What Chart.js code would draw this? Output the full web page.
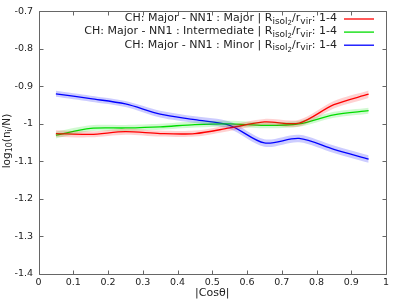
<!DOCTYPE html>
<html>
<head>
<meta charset="utf-8">
<script src="https://cdn.jsdelivr.net/npm/chart.js@4"></script>
<style>
  html, body { margin: 0; padding: 0; background: #fff; }
</style>
</head>
<body>
<canvas id="c" width="399" height="299"></canvas>
<script>
// ------------------------
// Data
// ------------------------
const cosBins = [0.05, 0.15, 0.25, 0.35, 0.45, 0.55, 0.65, 0.75, 0.85, 0.95];

const majorVals = [-1.026, -1.028, -1.021, -1.026, -1.026, -1.011, -0.995, -0.998, -0.949, -0.921];
const interVals = [-1.030, -1.012, -1.011, -1.008, -1.002, -1.000, -1.004, -1.000, -0.976, -0.965];
const minorVals = [-0.920, -0.933, -0.947, -0.974, -0.989, -1.004, -1.051, -1.039, -1.068, -1.094];

const majorErr = [0.009, 0.008, 0.008, 0.008, 0.008, 0.008, 0.008, 0.009, 0.010, 0.010];
const interErr = [0.009, 0.008, 0.008, 0.008, 0.008, 0.008, 0.008, 0.008, 0.008, 0.008];
const minorErr = [0.008, 0.008, 0.008, 0.009, 0.009, 0.010, 0.010, 0.010, 0.010, 0.010];

const xTicks = [0, 0.1, 0.2, 0.3, 0.4, 0.5, 0.6, 0.7, 0.8, 0.9, 1];
const yTicks = [-1.4, -1.3, -1.2, -1.1, -1, -0.9, -0.8, -0.7];

const seriesNames = ['Major', 'Intermediate', 'Minor'];
const seriesColors = ['#ff0000', '#00dd00', '#0000ff'];
const bandColors = ['rgba(255,0,0,0.18)', 'rgba(0,220,0,0.18)', 'rgba(0,0,255,0.2)'];

const FONT = '"DejaVu Sans", sans-serif';

// ------------------------
// Build datasets
// ------------------------
function pts(vals, errs, sign) {
  return cosBins.map((x, i) => ({ x: x, y: vals[i] + sign * (errs ? errs[i] : 0) }));
}

const allVals = [majorVals, interVals, minorVals];
const allErrs = [majorErr, interErr, minorErr];
const datasets = [];

allVals.forEach((vals, k) => {
  // band: lower edge, then upper edge filled down to it
  datasets.push({
    data: pts(vals, allErrs[k], -1),
    borderWidth: 0, pointRadius: 0, fill: false, tension: 0.3
  });
  datasets.push({
    data: pts(vals, allErrs[k], 1),
    borderWidth: 0, pointRadius: 0, fill: '-1',
    backgroundColor: bandColors[k], tension: 0.3
  });
});
allVals.forEach((vals, k) => {
  datasets.push({
    data: pts(vals, null, 0),
    borderColor: seriesColors[k], borderWidth: 1.3,
    pointRadius: 0, fill: false, tension: 0.3
  });
});

// ------------------------
// Frame, inward ticks, legend, y title
// ------------------------
function textWidth(ctx, parts) {
  let w = 0;
  parts.forEach(p => { ctx.font = p.size + 'px ' + FONT; w += ctx.measureText(p.t).width; });
  return w;
}

function drawRich(ctx, parts, xLeft, y) {
  let x = xLeft;
  ctx.textAlign = 'left';
  ctx.textBaseline = 'middle';
  parts.forEach(p => {
    ctx.font = p.size + 'px ' + FONT;
    ctx.fillText(p.t, x, y + p.dy);
    x += ctx.measureText(p.t).width;
  });
}

const framePlugin = {
  id: 'frame',
  afterDraw(chart) {
    const ctx = chart.ctx;
    const a = chart.chartArea;
    const xs = chart.scales.x, ys = chart.scales.y;
    const L = Math.round(a.left) + 0.5, R = Math.round(a.right) + 0.5;
    const T = Math.round(a.top) + 0.5, B = Math.round(a.bottom) + 0.5;

    ctx.save();
    ctx.strokeStyle = '#666';
    ctx.lineWidth = 1;
    ctx.beginPath();
    ctx.rect(L, T, R - L, B - T);
    xTicks.forEach(v => {
      const px = Math.round(xs.getPixelForValue(v)) + 0.5;
      ctx.moveTo(px, B); ctx.lineTo(px, B - 4);
      ctx.moveTo(px, T); ctx.lineTo(px, T + 4);
    });
    yTicks.forEach(v => {
      const py = Math.round(ys.getPixelForValue(v)) + 0.5;
      ctx.moveTo(L, py); ctx.lineTo(L + 4, py);
      ctx.moveTo(R, py); ctx.lineTo(R - 4, py);
    });
    ctx.stroke();

    // legend, right aligned text with sample line
    seriesNames.forEach((name, k) => {
      const y = 18.5 + k * 13.1;
      const parts = [
        { t: 'CH: Major - NN1 : ' + name + ' | R', size: 11, dy: 0 },
        { t: 'isol', size: 9, dy: 3 },
        { t: '2', size: 7, dy: 5 },
        { t: '/r', size: 11, dy: 0 },
        { t: 'vir', size: 9, dy: 3 },
        { t: ': 1-4', size: 11, dy: 0 }
      ];
      ctx.fillStyle = '#222';
      drawRich(ctx, parts, 337 - textWidth(ctx, parts), y);
      ctx.strokeStyle = seriesColors[k];
      ctx.lineWidth = 1.3;
      ctx.beginPath();
      ctx.moveTo(344, y + 0.5); ctx.lineTo(374, y + 0.5);
      ctx.stroke();
    });
    ctx.restore();

    // y axis title, rotated
    const yParts = [
      { t: 'log', size: 10.5, dy: 0 },
      { t: '10', size: 8, dy: 3 },
      { t: '(n', size: 10.5, dy: 0 },
      { t: 'i', size: 8, dy: 3 },
      { t: '/N)', size: 10.5, dy: 0 }
    ];
    ctx.save();
    ctx.fillStyle = '#222';
    ctx.translate(7, 141);
    ctx.rotate(-Math.PI / 2);
    drawRich(ctx, yParts, -textWidth(ctx, yParts) / 2, 0);
    ctx.restore();
  }
};

function fmt(v) { return String(parseFloat(Number(v).toFixed(1))); }

new Chart(document.getElementById('c'), {
  type: 'line',
  data: { datasets: datasets },
  options: {
    responsive: false,
    animation: false,
    layout: { padding: { left: 0, right: 13, top: 9, bottom: 0 } },
    plugins: { legend: { display: false }, tooltip: { enabled: false } },
    scales: {
      x: {
        type: 'linear', min: 0, max: 1,
        afterBuildTicks: s => { s.ticks = xTicks.map(v => ({ value: v })); },
        afterFit: s => { s.height = 25; },
        grid: { display: false, drawTicks: false },
        border: { display: false },
        ticks: { callback: fmt, color: '#222', font: { family: FONT, size: 9.5 }, padding: 3, maxRotation: 0 },
        title: { display: true, text: '|Cosθ|', color: '#222', font: { family: FONT, size: 11 }, padding: { top: 0, bottom: -1 } }
      },
      y: {
        type: 'linear', min: -1.4, max: -0.7,
        afterBuildTicks: s => { s.ticks = yTicks.map(v => ({ value: v })); },
        afterFit: s => { s.width = 38.5; },
        grid: { display: false, drawTicks: false },
        border: { display: false },
        ticks: { callback: fmt, color: '#222', font: { family: FONT, size: 9.5 }, padding: 5.5 }
      }
    }
  },
  plugins: [framePlugin]
});
</script>
</body>
</html>
